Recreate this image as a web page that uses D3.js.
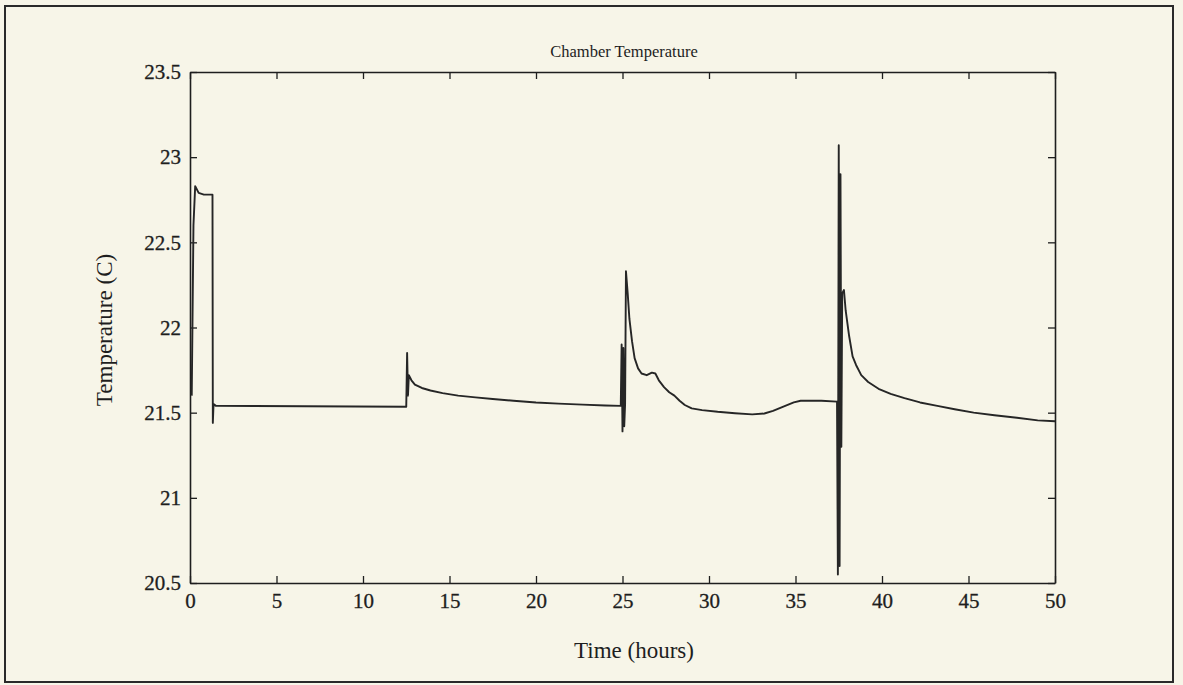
<!DOCTYPE html>
<html>
<head>
<meta charset="utf-8">
<script src="https://cdn.jsdelivr.net/npm/d3@7"></script>
<style>
  html, body { margin: 0; padding: 0; background: #f7f5e8; }
  svg { display: block; }
  text { font-family: "Liberation Serif", "Times New Roman", serif; fill: #1e1e1e; }
</style>
</head>
<body>
<svg id="chart" width="1183" height="685"></svg>
<script>
// Chamber temperature record (hours, degrees C)
const timeHours = [
  0.1, 0.2, 0.3, 0.5, 0.8, 1.3, 1.32, 1.36, 1.5,
  12.5, 12.55, 12.6, 12.65, 12.8, 13.0, 13.4, 13.9, 14.6, 15.5, 16.5, 17.5, 18.7, 20, 21.3, 22.7, 24, 24.9,
  24.95, 25.0, 25.05, 25.1, 25.15, 25.2, 25.3, 25.4, 25.55, 25.7, 25.9, 26.1, 26.4, 26.7, 26.9,
  27.1, 27.4, 27.7, 28.0, 28.3, 28.6, 29.0, 29.6, 30.5, 31.5, 32.5, 33.2, 33.7, 34.3, 34.9, 35.3, 36.5, 37.4,
  37.45, 37.5, 37.55, 37.6, 37.65, 37.7, 37.8, 37.9, 38.1, 38.3, 38.5, 38.8, 39.2, 39.8, 40.5, 41.3,
  42.2, 43.2, 44.2, 45.3, 46.5, 47.8, 49, 50
];
const temperatureC = [
  21.6, 22.6, 22.83, 22.79, 22.78, 22.78, 21.44, 21.55, 21.54,
  21.535, 21.85, 21.6, 21.72, 21.69, 21.665, 21.645, 21.63, 21.615, 21.6, 21.59, 21.58, 21.57, 21.56, 21.553, 21.547, 21.542, 21.54,
  21.9, 21.39, 21.88, 21.42, 21.55, 22.33, 22.2, 22.05, 21.92, 21.82, 21.76, 21.73, 21.72, 21.735, 21.73,
  21.69, 21.65, 21.62, 21.6, 21.57, 21.545, 21.525, 21.515, 21.505, 21.497, 21.49, 21.495, 21.51, 21.535, 21.56, 21.57, 21.57, 21.565,
  20.55, 23.07, 20.6, 22.9, 21.3, 22.2, 22.22, 22.1, 21.95, 21.83, 21.78, 21.72, 21.68, 21.64, 21.61, 21.585,
  21.56, 21.54, 21.52, 21.5, 21.485, 21.47, 21.455, 21.45
];
const xTicks = [0, 5, 10, 15, 20, 25, 30, 35, 40, 45, 50];
const yTicks = [20.5, 21, 21.5, 22, 22.5, 23, 23.5];

const svg = d3.select("#chart");
const plotLeft = 190, plotRight = 1055, plotTop = 72, plotBottom = 583;

const x = d3.scaleLinear().domain([0, 50]).range([plotLeft, plotRight]);
const y = d3.scaleLinear().domain([20.5, 23.5]).range([plotBottom, plotTop]);

// outer figure frame
svg.append("rect")
  .attr("x", 5).attr("y", 6).attr("width", 1168).attr("height", 676)
  .attr("fill", "none").attr("stroke", "#2a2a2a").attr("stroke-width", 2);

const tickLen = 7;
const fmt = d => String(d);

// bottom axis with inward ticks
const gx = svg.append("g").attr("transform", `translate(0,${plotBottom})`)
  .call(d3.axisBottom(x).tickValues(xTicks).tickFormat(fmt).tickSizeInner(-tickLen).tickSizeOuter(0).tickPadding(tickLen + 3));
// top axis
const gxt = svg.append("g").attr("transform", `translate(0,${plotTop})`)
  .call(d3.axisTop(x).tickValues(xTicks).tickFormat("").tickSizeInner(-tickLen).tickSizeOuter(0));
// left axis
const gy = svg.append("g").attr("transform", `translate(${plotLeft},0)`)
  .call(d3.axisLeft(y).tickValues(yTicks).tickFormat(fmt).tickSizeInner(-tickLen).tickSizeOuter(0).tickPadding(tickLen + 2));
// right axis
const gyr = svg.append("g").attr("transform", `translate(${plotRight},0)`)
  .call(d3.axisRight(y).tickValues(yTicks).tickFormat("").tickSizeInner(-tickLen).tickSizeOuter(0));

[gx, gxt, gy, gyr].forEach(g => {
  g.select(".domain").attr("stroke", "#1e1e1e").attr("stroke-width", 1.6);
  g.selectAll(".tick line").attr("stroke", "#1e1e1e").attr("stroke-width", 1.3);
  g.selectAll(".tick text")
    .style("font-family", '"Liberation Serif", "Times New Roman", serif')
    .style("font-size", "21px").attr("fill", "#1e1e1e")
    .attr("stroke", "#1e1e1e").attr("stroke-width", 0.3);
});
gx.selectAll(".tick text").attr("dy", "0.71em");

// temperature trace
const pts = timeHours.map((t, i) => [t, temperatureC[i]]);
svg.append("path")
  .datum(pts)
  .attr("fill", "none")
  .attr("stroke", "#262626")
  .attr("stroke-width", 1.9)
  .attr("stroke-linejoin", "round")
  .attr("d", d3.line().x(d => x(d[0])).y(d => y(d[1])));

// titles
svg.append("text")
  .attr("x", 624).attr("y", 57)
  .attr("text-anchor", "middle").style("font-size", "16.5px")
  .text("Chamber Temperature");

svg.append("text")
  .attr("x", 634).attr("y", 658)
  .attr("text-anchor", "middle").style("font-size", "23px")
  .text("Time (hours)");

svg.append("text")
  .attr("transform", `translate(112,330) rotate(-90)`)
  .attr("text-anchor", "middle").style("font-size", "23px")
  .text("Temperature (C)");
</script>
</body>
</html>
